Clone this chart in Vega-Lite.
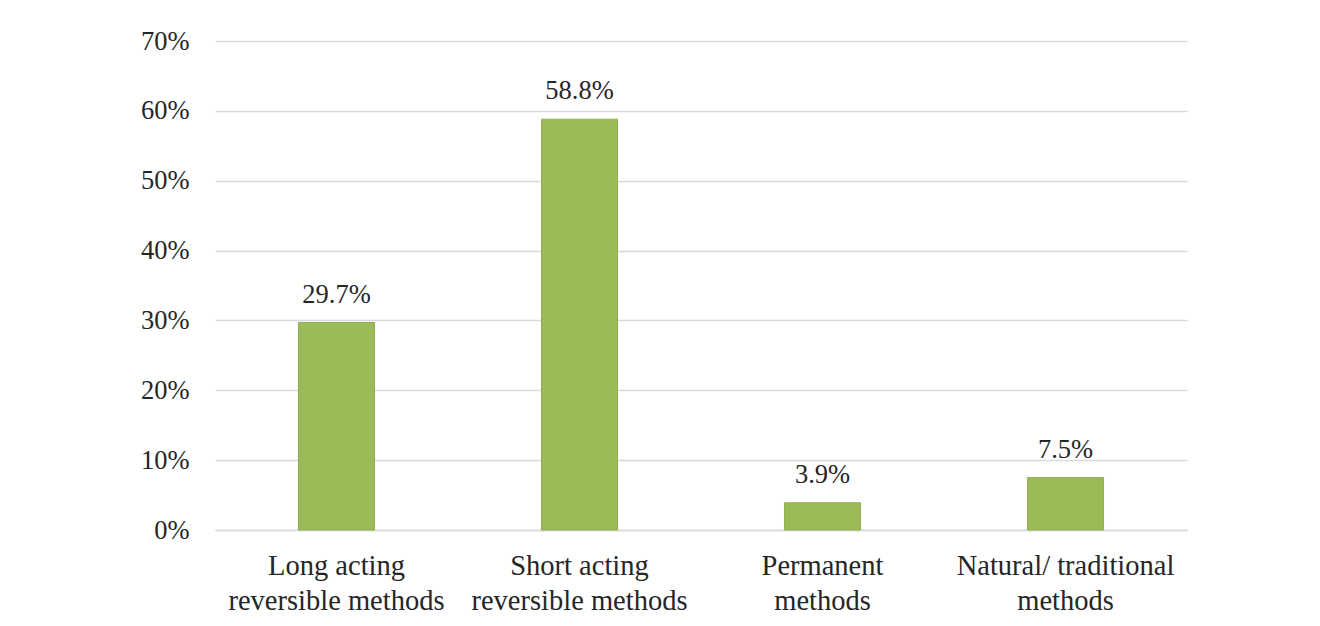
{
  "$schema": "https://vega.github.io/schema/vega-lite/v6.json",
  "width": 972,
  "height": 489,
  "autosize": {"type": "none"},
  "padding": {"left": 215, "top": 41, "right": 133, "bottom": 96},
  "background": "#ffffff",
  "data": {
    "values": [
      {"method": "Long acting reversible methods", "value": 29.7, "label": "29.7%"},
      {"method": "Short acting reversible methods", "value": 58.8, "label": "58.8%"},
      {"method": "Permanent methods", "value": 3.9, "label": "3.9%"},
      {"method": "Natural/traditional methods", "value": 7.5, "label": "7.5%"}
    ]
  },
  "encoding": {
    "x": {
      "field": "method",
      "type": "nominal",
      "sort": null,
      "scale": {"paddingInner": 0.687, "paddingOuter": 0.3435},
      "axis": {
        "title": null,
        "labelAngle": 0,
        "ticks": false,
        "domain": true,
        "domainColor": "#d9d9d9",
        "domainWidth": 1.5,
        "labelFont": "Liberation Serif",
        "labelFontSize": 28.5,
        "labelColor": "#262626",
        "labelPadding": 21,
        "labelLineHeight": 35,
        "labelLimit": 0,
        "labelOverlap": false,
        "labelBaseline": "top",
        "labelExpr": "datum.value == 'Long acting reversible methods' ? ['Long acting', 'reversible methods'] : datum.value == 'Short acting reversible methods' ? ['Short acting', 'reversible methods'] : datum.value == 'Permanent methods' ? ['Permanent', 'methods'] : ['Natural/ traditional', 'methods']"
      }
    },
    "y": {
      "field": "value",
      "type": "quantitative",
      "scale": {"domain": [0, 70]},
      "axis": {
        "title": null,
        "values": [0, 10, 20, 30, 40, 50, 60, 70],
        "labelExpr": "datum.value + '%'",
        "ticks": false,
        "domain": false,
        "grid": true,
        "gridColor": "#d9d9d9",
        "gridWidth": 1.5,
        "labelFont": "Liberation Serif",
        "labelFontSize": 26.5,
        "labelColor": "#262626",
        "labelPadding": 26
      }
    }
  },
  "layer": [
    {
      "mark": {"type": "bar", "color": "#9bbb59", "stroke": "#8fae4f", "strokeWidth": 1}
    },
    {
      "mark": {"type": "text", "font": "Liberation Serif", "fontSize": 26.5, "color": "#262626", "baseline": "bottom", "dy": -14},
      "encoding": {"text": {"field": "label"}}
    }
  ],
  "config": {"view": {"stroke": null}}
}
